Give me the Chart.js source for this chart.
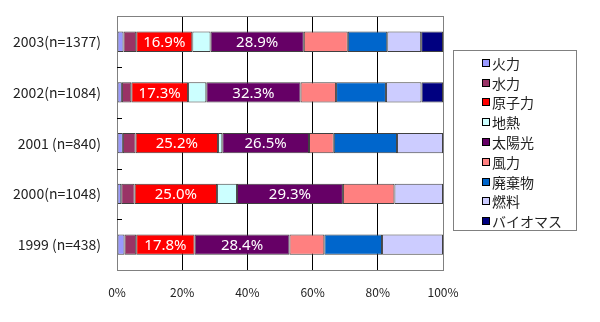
<!DOCTYPE html>
<html>
<head>
<meta charset="utf-8">
<script src="https://cdn.jsdelivr.net/npm/chart.js@4"></script>
<style>
  body{margin:0;background:#fff;}
  #wrap{width:600px;height:322px;position:relative;}
</style>
</head>
<body>
<div id="wrap"><canvas id="c"></canvas></div>
<script>
// categories, top to bottom
const years = ['2003(n=1377)','2002(n=1084)','2001 (n=840)','2000(n=1048)','1999 (n=438)'];
const sources = ['火力','水力','原子力','地熱','太陽光','風力','廃棄物','燃料','バイオマス'];
const colors = ['#9999FF','#993366','#FF0000','#CCFFFF','#660066','#FF8080','#0066CC','#CCCCFF','#000080'];

// share of each bar (%)
const thermal  = [2.0, 1.5, 1.8, 1.3, 2.3];
const hydro    = [3.9, 2.9, 3.9, 4.1, 3.6];
const nuclear  = [17.2, 17.4, 25.3, 25.3, 17.9];
const geo      = [5.6, 5.6, 1.3, 6.1, 0];
const solar    = [28.6, 28.9, 26.6, 32.5, 29.1];
const wind     = [13.5, 10.9, 7.6, 15.8, 10.7];
const waste    = [12.1, 15.3, 19.4, 0, 17.7];
const fuel     = [10.4, 10.9, 14.1, 14.9, 18.7];
const biomass  = [6.7, 6.6, 0, 0, 0];

// texts printed on the bars
const nuclearText = ['16.9%','17.3%','25.2%','25.0%','17.8%'];
const solarText   = ['28.9%','32.3%','26.5%','29.3%','28.4%'];

const xTicks = [0,20,40,60,80,100];

const series = [thermal,hydro,nuclear,geo,solar,wind,waste,fuel,biomass];
const datasets = series.map((d,i)=>({
  label: sources[i],
  data: d,
  backgroundColor: colors[i],
  borderColor: '#404040',
  borderWidth: 1,
  borderSkipped: false
}));

const jp = '"Noto Sans CJK JP", "Noto Sans", sans-serif';

const framePlugin = {
  id:'frame',
  afterDatasetsDraw(chart){
    const {ctx, chartArea:a} = chart;
    ctx.save();
    // frame
    ctx.strokeStyle = '#808080';
    ctx.lineWidth = 1;
    ctx.strokeRect(Math.round(a.left)+0.5, Math.round(a.top)+0.5, Math.round(a.right-a.left), Math.round(a.bottom-a.top));
    // small category ticks
    const ys = chart.scales.y;
    ctx.strokeStyle = '#000';
    for(let i=1;i<years.length;i++){
      const y = Math.round((ys.getPixelForValue(i-1)+ys.getPixelForValue(i))/2)+0.5;
      ctx.beginPath(); ctx.moveTo(a.left, y); ctx.lineTo(a.left+5, y); ctx.stroke();
    }
    // value texts
    ctx.fillStyle = '#fff';
    ctx.font = '15px "Noto Sans", sans-serif';
    ctx.textAlign = 'center';
    ctx.textBaseline = 'middle';
    [[2,nuclearText],[4,solarText]].forEach(([di,txt])=>{
      chart.getDatasetMeta(di).data.forEach((bar,j)=>{
        const p = bar.getProps(['x','y','base'],true);
        ctx.fillText(txt[j], (p.x+p.base)/2, p.y+1);
      });
    });
    ctx.restore();
  },
  afterDraw(chart){
    // legend box
    const ctx = chart.ctx;
    ctx.save();
    ctx.fillStyle = '#fff';
    ctx.fillRect(453,50,123,180);
    ctx.strokeStyle = '#808080';
    ctx.strokeRect(453.5,50.5,123,180);
    ctx.font = '14px '+jp;
    ctx.textAlign = 'left';
    ctx.textBaseline = 'middle';
    sources.forEach((s,i)=>{
      const y = Math.round(62.7 + i*19.8);
      ctx.fillStyle = colors[i];
      ctx.fillRect(482,y-4,8,8);
      ctx.strokeStyle = '#000';
      ctx.strokeRect(482.5,y-3.5,7,7);
      ctx.fillStyle = '#222';
      ctx.fillText(s, 492, y+1);
    });
    ctx.restore();
  }
};

new Chart(document.getElementById('c'),{
  type:'bar',
  data:{labels: years, datasets},
  options:{
    indexAxis:'y',
    responsive:true,
    maintainAspectRatio:false,
    animation:false,
    layout:{padding:{left:0,right:157,top:9,bottom:0}},
    datasets:{bar:{categoryPercentage:1, barPercentage:0.4}},
    plugins:{legend:{display:false}, tooltip:{enabled:false}},
    scales:{
      x:{
        stacked:true, min:0, max:100,
        afterFit(s){ s.height = 52; },
        afterBuildTicks(s){ s.ticks = xTicks.map(v=>({value:v})); },
        grid:{color:'#000', drawTicks:false},
        border:{display:false},
        ticks:{padding:15, color:'#222', font:{size:12, family:jp}, callback:v=>v+'%'}
      },
      y:{
        stacked:true,
        afterFit(s){ s.width = 117; },
        grid:{display:false},
        border:{display:false},
        ticks:{padding:8, color:'#222', font:{size:14, family:jp}}
      }
    }
  },
  plugins:[framePlugin]
});
</script>
</body>
</html>
